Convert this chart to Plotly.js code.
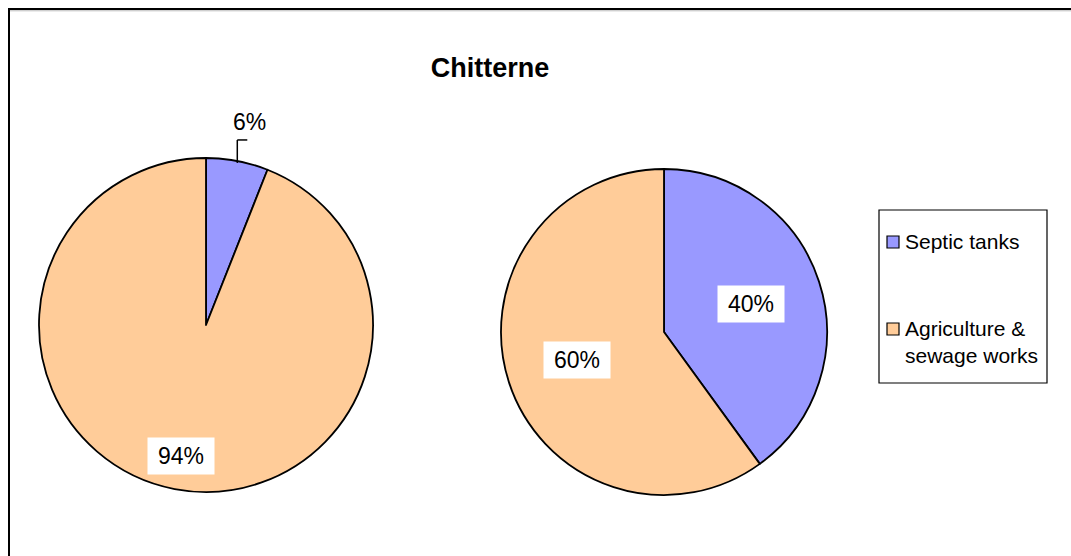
<!DOCTYPE html>
<html>
<head>
<meta charset="utf-8">
<script src="https://cdn.plot.ly/plotly-3.0.1.min.js"></script>
<style>html,body{margin:0;padding:0;background:#fff;}#chart{width:1071px;height:556px;}</style>
</head>
<body>
<div id="chart"></div>
<script>
// ---- data ----
const categories = ['Septic tanks', 'Agriculture & sewage works'];
const legendLabels = ['Septic tanks', 'Agriculture &<br>sewage works'];
const leftValues = [6, 94];
const rightValues = [40, 60];
const sliceColors = ['#9999FF', '#FFCC99'];
const chartTitle = 'Chitterne';

// ---- layout helpers ----
const W = 1071, H = 556;
const FONT = 'Liberation Sans, Arial, sans-serif';
const px = x => x / W;
const py = y => 1 - y / H;

const pies = [
  {values: leftValues,  cx: 206, cy: 325, r: 167, f: 0.8},
  {values: rightValues, cx: 664, cy: 332, r: 163, f: 0.56}
];

const traces = [];
const annotations = [];
const shapes = [];

pies.forEach((p, i) => {
  traces.push({
    type: 'pie',
    labels: categories,
    values: p.values,
    sort: false,
    direction: 'clockwise',
    rotation: 0,
    textinfo: 'none',
    hoverinfo: 'label+percent',
    showlegend: false,
    marker: {colors: sliceColors, line: {color: '#000', width: 1.8}},
    domain: {x: [px(p.cx - p.r), px(p.cx + p.r)], y: [py(p.cy + p.r), py(p.cy - p.r)]}
  });
  const sum = p.values.reduce((a, b) => a + b, 0);
  let cum = 0;
  p.values.forEach(v => {
    const a0 = cum / sum * 360;
    cum += v;
    const a1 = cum / sum * 360;
    const m = (a0 + a1) / 2 * Math.PI / 180;
    const pct = Math.round(v / sum * 100);
    const txt = pct + '%';
    if (pct >= 10) {
      annotations.push({
        xref: 'paper', yref: 'paper',
        x: px(p.cx + p.f * p.r * Math.sin(m)),
        y: py(p.cy - p.f * p.r * Math.cos(m)),
        xanchor: 'center', yanchor: 'middle',
        text: txt, showarrow: false,
        bgcolor: '#fff', borderpad: 5, width: 56,
        font: {family: FONT, size: 23, color: '#000'}
      });
    } else {
      const Px = p.cx + p.r * Math.sin(m), Py = p.cy - p.r * Math.cos(m);
      const Ey = Py - 21, Fx = Px + 10;
      shapes.push({type: 'line', xref: 'paper', yref: 'paper',
        x0: px(Px), y0: py(Py + 2), x1: px(Px), y1: py(Ey), line: {color: '#000', width: 1.5}});
      shapes.push({type: 'line', xref: 'paper', yref: 'paper',
        x0: px(Px), y0: py(Ey), x1: px(Fx), y1: py(Ey), line: {color: '#000', width: 1.5}});
      annotations.push({
        xref: 'paper', yref: 'paper',
        x: px(Fx + 2), y: py(Ey - 3),
        xanchor: 'center', yanchor: 'bottom',
        text: txt, showarrow: false,
        font: {family: FONT, size: 23, color: '#000'}
      });
    }
  });
});

// outer chart border (extends past right/bottom edges)
shapes.push({type: 'line', xref: 'paper', yref: 'paper', x0: px(9), x1: 1.02, y0: py(10.8), y1: py(10.8), line: {color: '#bbb', width: 1}});
shapes.push({type: 'rect', xref: 'paper', yref: 'paper', x0: px(9), x1: 1.02, y0: -0.02, y1: py(9), line: {color: '#000', width: 2}});

// legend box
shapes.push({type: 'rect', xref: 'paper', yref: 'paper', x0: px(879), x1: px(1047), y0: py(383), y1: py(210), line: {color: '#000', width: 1.2}, fillcolor: '#fff', layer: 'below'});
const legendRowY = [242, 329];
categories.forEach((c, i) => {
  const y = legendRowY[i];
  shapes.push({type: 'rect', xref: 'paper', yref: 'paper',
    x0: px(887), x1: px(899), y0: py(y + 6), y1: py(y - 6),
    fillcolor: sliceColors[i], line: {color: '#000', width: 1.2}});
  annotations.push({
    xref: 'paper', yref: 'paper',
    x: px(903), y: py(y - 14.5),
    xanchor: 'left', yanchor: 'top', align: 'left',
    text: legendLabels[i], showarrow: false,
    font: {family: FONT, size: 21, color: '#000'}
  });
});

const layout = {
  width: W, height: H,
  margin: {l: 0, r: 0, t: 0, b: 0},
  paper_bgcolor: '#fff',
  showlegend: false,
  title: {text: chartTitle, x: px(490), xanchor: 'center', y: py(68), yanchor: 'middle',
          font: {family: FONT, size: 27, weight: 'bold', color: '#000'}},
  annotations: annotations,
  shapes: shapes
};

Plotly.newPlot('chart', traces, layout, {displayModeBar: false, staticPlot: true});
</script>
</body>
</html>
